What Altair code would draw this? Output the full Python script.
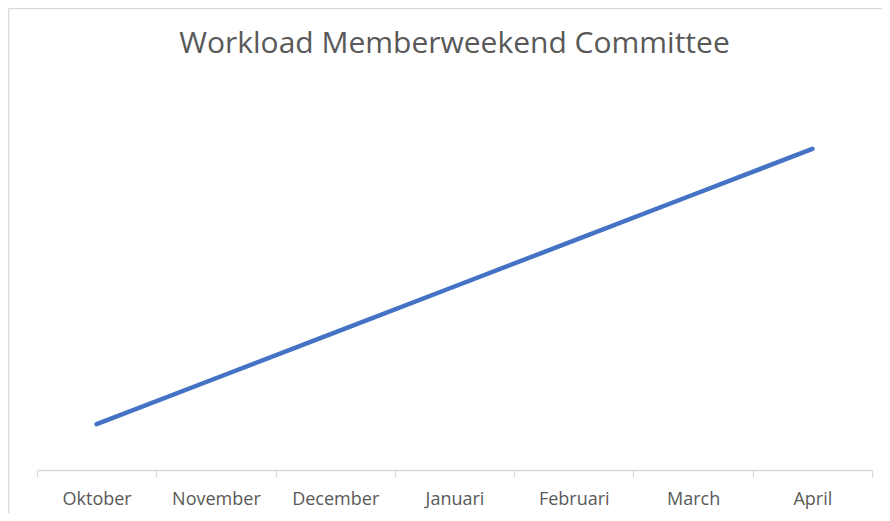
import altair as alt
import pandas as pd

months = ["Oktober", "November", "December", "Januari", "Februari", "March", "April"]
workload = [1, 2, 3, 4, 5, 6, 7]

df = pd.DataFrame({"month": months, "workload": workload})

line = alt.Chart(df).mark_line(
    color="#4472C4", strokeWidth=4.5, strokeCap="round", strokeJoin="round"
).encode(
    x=alt.X("month:N", sort=months, bandPosition=0.5,
            scale=alt.Scale(type="band", paddingInner=0, paddingOuter=0),
            axis=alt.Axis(title=None, labelAngle=0, tickBand="extent", tickSize=7,
                          domainColor="#d9d9d9", tickColor="#d9d9d9", domainWidth=1.3,
                          tickWidth=1.3, labelColor="#595959", labelFont="Open Sans",
                          labelFontSize=18, labelBaseline="alphabetic", labelPadding=27,
                          grid=False)),
    y=alt.Y("workload:Q", scale=alt.Scale(domain=[0, 8], nice=False), axis=None),
)

border_df = pd.DataFrame({"a": [0]})
left_border = alt.Chart(border_df).mark_rule(color="#d9d9d9", strokeWidth=1.5).encode(
    x=alt.value(-28.5), y=alt.value(-94.5), y2=alt.value(420)
)
top_border = alt.Chart(border_df).mark_rule(color="#d9d9d9", strokeWidth=1.5).encode(
    y=alt.value(-94.5), x=alt.value(-28.5), x2=alt.value(900)
)

chart = alt.layer(line, left_border, top_border).properties(
    width=835,
    height=367,
    background="white",
    autosize=alt.AutoSizeParams(type="none"),
    padding={"left": 29, "top": 95, "right": 10, "bottom": 43},
    title=alt.TitleParams(
        "Workload Memberweekend Committee", font="Open Sans", fontSize=30,
        fontWeight="normal", color="#595959", anchor="middle",
        baseline="alphabetic", offset=-75.5,
    ),
).configure_view(stroke=None)

chart.save("out.html", embed_options={"renderer": "svg", "actions": False})
